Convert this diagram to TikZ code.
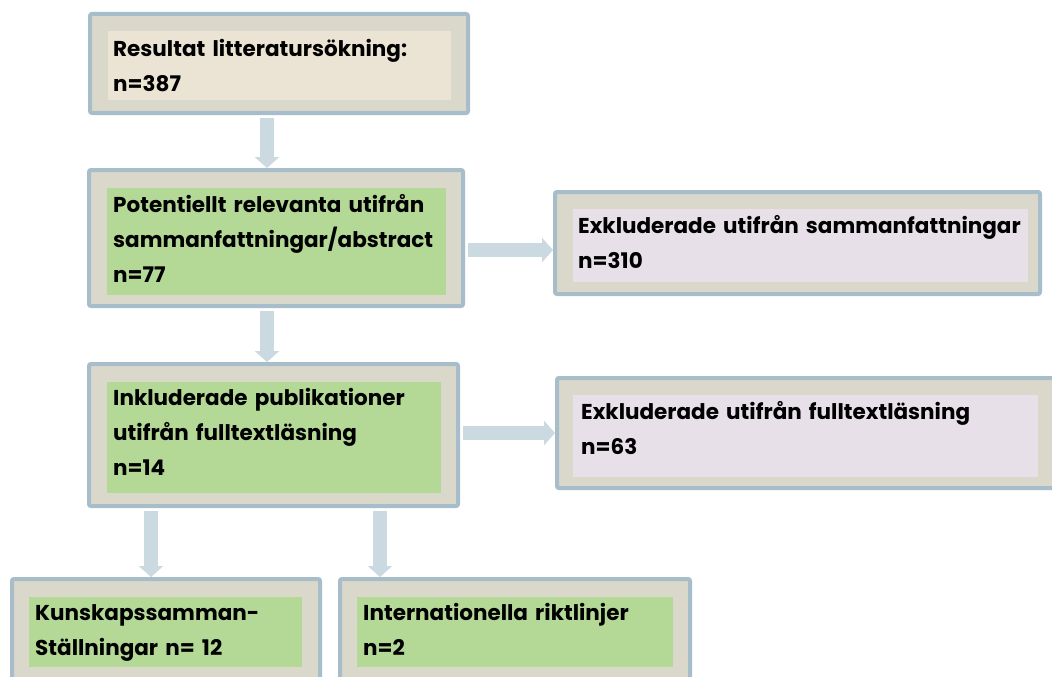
\documentclass[tikz,border=0pt]{standalone}
\usepackage{fontspec}
\setmainfont{Poppins}
\usetikzlibrary{arrows.meta,fit}
\definecolor{bordercol}{HTML}{A7BDC9}
\definecolor{outerfill}{HTML}{DAD8CB}
\definecolor{beigefill}{HTML}{EBE4D4}
\definecolor{greenfill}{HTML}{B4D996}
\definecolor{lavfill}{HTML}{E7E0E9}
\definecolor{arrowcol}{HTML}{CBD9E1}
\begin{document}
\begin{tikzpicture}[x=1pt,y=-1pt,
  outerbox/.style={draw=bordercol,line width=4pt,fill=outerfill,rounded corners=2pt,inner sep=0pt,rectangle},
  innerbox/.style={fill=#1,inner sep=0pt,rectangle},
  txt/.style={anchor=base west,inner sep=0pt,text width=600pt,align=left,
    font=\fontsize{21.5}{35}\selectfont\bfseries},
  bigarrow/.style={draw=arrowcol,line width=14pt,shorten <=3pt,
    -{Triangle[length=11pt,width=24pt]}}]
\clip (0,0) rectangle (1052,677);
\fill[white] (0,0) rectangle (1052,677);
% box 1
\node[outerbox,fit={(90,14)(468,113)}] (b1) {};
\node[innerbox=beigefill,fit={(108,31)(451,100)}] (i1) {};
\node[txt] (t1) at (113,57) {Resultat litteratursökning:\\n=387};
% box 2
\node[outerbox,fit={(89,170)(463,306)}] (b2) {};
\node[innerbox=greenfill,fit={(107,188)(446,295)}] (i2) {};
\node[txt] (t2) at (113,212) {Potentiellt relevanta utifrån\\sammanfattningar/abstract\\n=77};
% box 3
\node[outerbox,fit={(555,192)(1040,294)}] (b3) {};
\node[innerbox=lavfill,fit={(573,209)(1028,282)}] (i3) {};
\node[txt] (t3) at (578,233) {Exkluderade utifrån sammanfattningar\\n=310};
% box 4
\node[outerbox,fit={(89,364)(458,506)}] (b4) {};
\node[innerbox=greenfill,fit={(107,382)(441,493)}] (i4) {};
\node[txt] (t4) at (113,405) {Inkluderade publikationer\\utifrån fulltextläsning\\n=14};
% box 5
\node[outerbox,fit={(557,378)(1070,488)}] (b5) {};
\node[innerbox=lavfill,fit={(573,395)(1038,477)}] (i5) {};
\node[txt] (t5) at (581,419) {Exkluderade utifrån fulltextläsning\\n=63};
% box 6
\node[outerbox,fit={(12,579)(320,700)}] (b6) {};
\node[innerbox=greenfill,fit={(29,597)(302,667)}] (i6) {};
\node[txt] (t6) at (35,620) {Kunskapssamman-\\Ställningar n= 12};
% box 7
\node[outerbox,fit={(340,579)(690,700)}] (b7) {};
\node[innerbox=greenfill,fit={(357,597)(673,667)}] (i7) {};
\node[txt] (t7) at (363,620) {Internationella riktlinjer\\n=2};
% arrows
\draw[bigarrow] ([xshift=-12pt]b1.south) -- ([xshift=-12pt]b1.south |- b2.north);
\draw[bigarrow] ([xshift=-9pt]b2.south) -- ([xshift=-9pt]b2.south |- b4.north);
\draw[bigarrow] ([yshift=-12pt]b2.east) -- ([yshift=-12pt]b2.east -| b3.west);
\draw[bigarrow] ([yshift=2pt]b4.east) -- ([yshift=2pt]b4.east -| b5.west);
\draw[bigarrow] ([xshift=64pt]b4.south west) -- ([xshift=64pt]b4.south west |- b6.north);
\draw[bigarrow] ([xshift=293pt]b4.south west) -- ([xshift=293pt]b4.south west |- b7.north);
\end{tikzpicture}
\end{document}
